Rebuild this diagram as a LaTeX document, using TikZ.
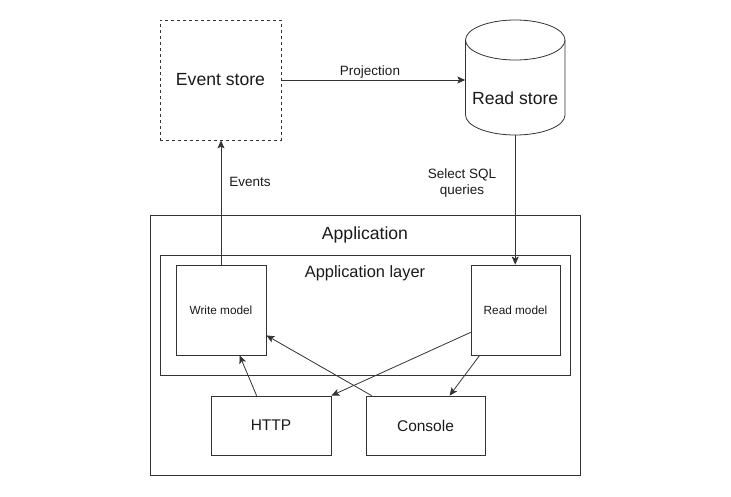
\documentclass[tikz,border=0pt]{standalone}
\usepackage{fontspec}
\setmainfont{Liberation Sans}
\usetikzlibrary{arrows.meta,calc}
\definecolor{ln}{HTML}{333333}
\definecolor{tx}{HTML}{1A1A1A}
\newcommand{\fsz}[1]{\fontsize{#1}{16}\selectfont}
\begin{document}
\begin{tikzpicture}[x=1pt,y=-1pt,
  box/.style={draw=ln, line width=0.8pt, fill=white, inner sep=0pt, text=tx},
  lbl/.style={inner sep=0pt, text=tx},
  arr/.style={draw=ln, line width=0.8pt, -{Stealth[length=8pt,width=7pt,inset=1.8pt]}}]
\useasboundingbox (0,0) rectangle (731,496);
% containers
\node[box, minimum width=430, minimum height=260] (app) at (365,345) {};
\node[lbl, font=\fsz{17.6}] (applbl) at (365,234.5) {Application};
\node[box, minimum width=410, minimum height=120] (layer) at (365,315) {};
\node[lbl, font=\fsz{16.4}] (layerlbl) at (365,273.5) {Application layer};
% inner nodes
\node[box, minimum width=90, minimum height=90, font=\fsz{11.8}] (wm) at (221,310) {Write model};
\node[box, minimum width=89, minimum height=90, font=\fsz{11.8}] (rm) at (515.5,310) {Read model};
\node[box, minimum width=120, minimum height=59, font=\fsz{15.5}] (http) at (271,425.5) {HTTP};
\node[box, minimum width=119, minimum height=59, font=\fsz{15.5}] (con) at (425.5,425.5) {Console};
% event store
\node[box, dashed, minimum width=121, minimum height=120, font=\fsz{17.6}] (es) at (220.5,80) {Event store};
% read store cylinder
\node[inner sep=0pt, minimum width=99.5, minimum height=115] (rs) at (515.25,77.5) {};
\draw[ln, line width=0.8pt, fill=white] (465.5,40) -- (465.5,115)
  arc[start angle=180, end angle=360, x radius=49.75pt, y radius=20pt] -- (565,40);
\draw[ln, line width=0.8pt, fill=white] (515.25,40) ellipse[x radius=49.75pt, y radius=20pt];
\node[lbl, font=\fsz{17.6}] (rslbl) at (515.25,98) {Read store};
% connectors
\draw[arr] (es.east) -- (es.east -| rs.west);
\node[lbl, font=\fsz{13.5}] (projlbl) at (370,72) {Projection};
\draw[arr] (wm.north) -- (wm.north |- es.south);
\node[lbl, font=\fsz{13.5}] (evlbl) at (250,182) {Events};
\draw[arr] (rs.south) -- (rs.south |- rm.north);
\node[lbl, font=\fsz{13.5}, align=center] (sqllbl) at (462,183) {Select SQL\\queries};
\draw[arr] ($(http.north west)+(46,0)$) -- ($(wm.south west)+(64,0)$);
\draw[arr] ($(con.north west)+(6,0)$) -- ($(wm.south east)+(0,-20)$);
\draw[arr] ($(rm.south west)+(0,-23)$) -- (http.north east);
\draw[arr] ($(rm.south west)+(9,0)$) -- ($(con.north west)+(84,0)$);
\end{tikzpicture}
\end{document}
